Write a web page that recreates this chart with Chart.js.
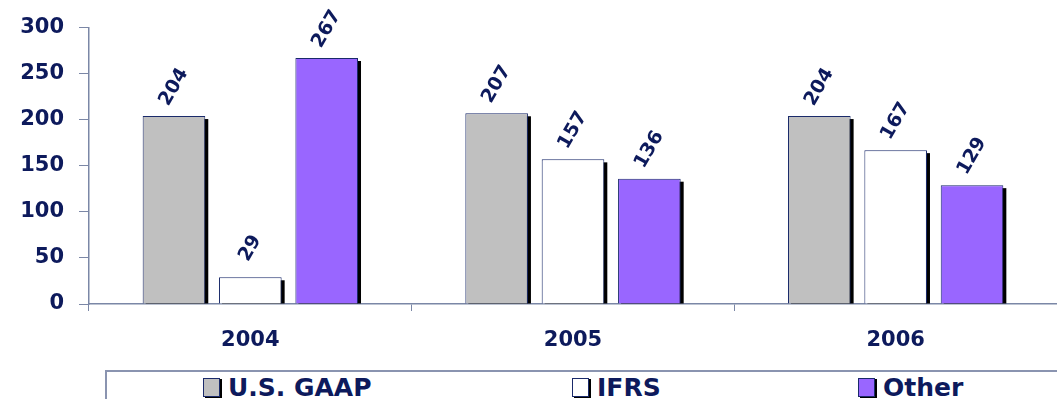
<!DOCTYPE html>
<html>
<head>
<meta charset="utf-8">
<script src="https://cdn.jsdelivr.net/npm/chart.js@4.4.0/dist/chart.umd.min.js"></script>
<style>
  body { margin: 0; background: #fff; width: 1057px; height: 399px; overflow: hidden; position: relative; font-family: "DejaVu Sans", Arial, sans-serif; }
  #wrap { position: absolute; left: 0; top: 0; width: 1057px; height: 360px; }
  #legend { position: absolute; left: 105px; top: 370px; width: 960px; height: 40px; border: 2px solid #8a94b0; box-sizing: border-box; }
  .item { position: absolute; top: 1px; font-weight: bold; font-size: 25px; color: #0d1a5c; white-space: nowrap; }
  .box { display: inline-block; width: 15px; height: 17px; border: 1px solid #1a2a6a; box-shadow: 2px 1px 0 #000; vertical-align: -1px; margin-right: 8px; }
</style>
</head>
<body>
<div id="wrap"><canvas id="chart"></canvas></div>
<div id="legend"></div>
<script>
const years = ['2004', '2005', '2006'];
const seriesNames = ['U.S. GAAP', 'IFRS', 'Other'];
const usGaap = [204, 207, 204];
const ifrs = [29, 157, 167];
const other = [267, 136, 129];
const yTicks = [0, 50, 100, 150, 200, 250, 300];

const navy = '#0d1a5c';
const axisColor = '#7b87a6';
const colors = ['#c0c0c0', '#ffffff', '#9966ff'];

// black drop shadow behind each bar
const barShadow = {
  id: 'barShadow',
  beforeDatasetsDraw(chart) {
    const ctx = chart.ctx;
    ctx.save();
    ctx.fillStyle = '#000';
    chart.data.datasets.forEach((ds, i) => {
      chart.getDatasetMeta(i).data.forEach(bar => {
        const left = bar.x - bar.width / 2;
        ctx.fillRect(left + 3, bar.y + 3, bar.width, bar.base - bar.y - 3);
      });
    });
    ctx.restore();
  }
};

// rotated value labels
const valueLabels = {
  id: 'valueLabels',
  afterDatasetsDraw(chart) {
    const ctx = chart.ctx;
    ctx.save();
    ctx.fillStyle = navy;
    ctx.font = 'bold 19px "DejaVu Sans", Arial';
    ctx.textAlign = 'center';
    ctx.textBaseline = 'middle';
    chart.data.datasets.forEach((ds, i) => {
      chart.getDatasetMeta(i).data.forEach((bar, j) => {
        ctx.save();
        ctx.translate(bar.x, bar.y - 29);
        ctx.rotate(-60 * Math.PI / 180);
        ctx.fillText(ds.data[j], 0, 0);
        ctx.restore();
      });
    });
    ctx.restore();
  }
};

new Chart(document.getElementById('chart'), {
  type: 'bar',
  data: {
    labels: years,
    datasets: [usGaap, ifrs, other].map((d, i) => ({
      label: seriesNames[i],
      data: d,
      backgroundColor: colors[i],
      borderColor: '#1a2a6a',
      borderWidth: 1,
      categoryPercentage: 0.71,
      barPercentage: 0.82
    }))
  },
  options: {
    responsive: true,
    maintainAspectRatio: false,
    animation: false,
    layout: { padding: { top: 27, left: 0, right: 0, bottom: 0 } },
    plugins: { legend: { display: false }, tooltip: { enabled: false } },
    scales: {
      x: {
        grid: { offset: true, drawOnChartArea: false, color: axisColor, tickLength: 7 },
        border: { color: axisColor, width: 1.5 },
        ticks: { color: navy, font: { family: '"DejaVu Sans", Arial', size: 21, weight: 'bold' }, padding: 17 },
        afterFit(s) { s.height = 56; }
      },
      y: {
        min: 0, max: 300,
        afterBuildTicks(s) { s.ticks = yTicks.map(v => ({ value: v })); },
        grid: { drawOnChartArea: false, color: axisColor, tickLength: 10 },
        border: { color: axisColor, width: 1.5 },
        ticks: { color: navy, font: { family: '"DejaVu Sans", Arial', size: 21, weight: 'bold' }, padding: 15 },
        afterFit(s) { s.width = 89; }
      }
    }
  },
  plugins: [barShadow, valueLabels]
});

// legend in a bordered box
const legend = document.getElementById('legend');
const itemLeft = [96, 465, 751];
seriesNames.forEach((name, i) => {
  const el = document.createElement('div');
  el.className = 'item';
  el.style.left = itemLeft[i] + 'px';
  el.innerHTML = '<span class="box" style="background:' + colors[i] + '"></span>' + name;
  legend.appendChild(el);
});
</script>
</body>
</html>
